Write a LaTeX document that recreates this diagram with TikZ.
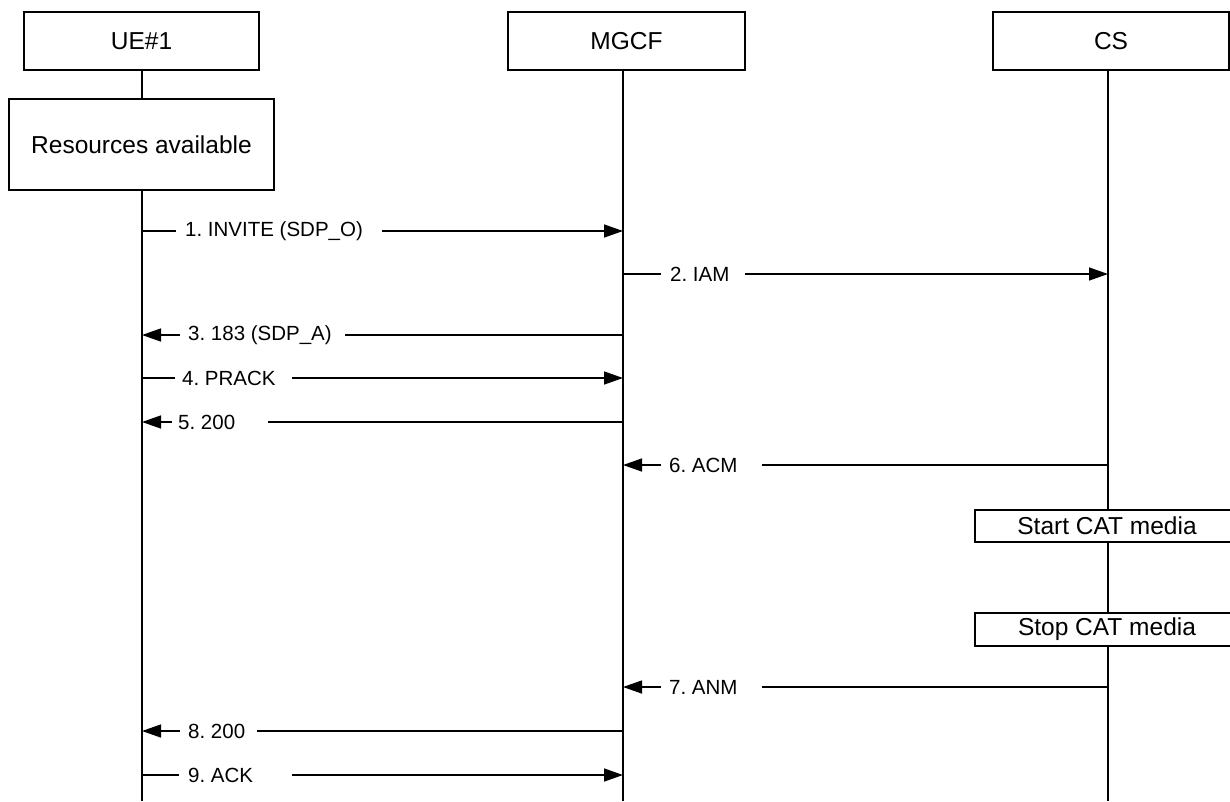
\documentclass[tikz,border=0pt]{standalone}
\usepackage{fontspec}
\setmainfont{Liberation Sans}
\usetikzlibrary{arrows.meta}
\frenchspacing
\begin{document}
\begin{tikzpicture}[x=1pt,y=-1pt,
  boxst/.style={draw,line width=1.5pt,fill=white,inner sep=0pt,font=\fontsize{24.5}{28}\selectfont},
  life/.style={line width=1.4pt},
  msg/.style={line width=1.4pt,-{Triangle[length=19pt,width=13pt]}},
  lbl/.style={fill=white,inner sep=0pt,inner xsep=0pt,anchor=west,font=\fontsize{20.5}{24}\selectfont}]
\useasboundingbox (0,0) rectangle (1230,801);
% headers
\node[boxst,minimum width=235pt,minimum height=58pt] (ue) at (141.5,41) {UE\#1};
\node[boxst,minimum width=237pt,minimum height=58pt] (mgcf) at (626.5,41) {MGCF};
\node[boxst,minimum width=236pt,minimum height=58pt] (cs) at (1111,41) {CS};
% lifeline ends
\coordinate (ueT) at (142,70);  \coordinate (ueB) at (142,801);
\coordinate (mgT) at (623,70);  \coordinate (mgB) at (623,801);
\coordinate (csT) at (1108,70); \coordinate (csB) at (1108,801);
\draw[life] (ueT) -- (ueB);
\draw[life] (mgT) -- (mgB);
\draw[life] (csT) -- (csB);
% boxes on lifelines
\node[boxst,minimum width=265pt,minimum height=91pt] (res) at (141.5,144.5) {Resources available};
\node[boxst,minimum width=264pt,minimum height=32pt] (start) at (1107,526) {Start CAT media};
\node[boxst,minimum width=264pt,minimum height=33pt] (stop) at (1107,629.5) {Stop CAT media};
% message points
\coordinate (u1) at (142,231); \coordinate (g1) at (623,231);
\coordinate (g2) at (623,274); \coordinate (c2) at (1108,274);
\coordinate (u3) at (142,335); \coordinate (g3) at (623,335);
\coordinate (u4) at (142,378); \coordinate (g4) at (623,378);
\coordinate (u5) at (142,422); \coordinate (g5) at (623,422);
\coordinate (g6) at (623,465); \coordinate (c6) at (1108,465);
\coordinate (g7) at (623,687); \coordinate (c7) at (1108,687);
\coordinate (u8) at (142,731); \coordinate (g8) at (623,731);
\coordinate (u9) at (142,775); \coordinate (g9) at (623,775);
\draw[msg] (u1) -- (g1);
\draw[msg] (g2) -- (c2);
\draw[msg] (g3) -- (u3);
\draw[msg] (u4) -- (g4);
\draw[msg] (g5) -- (u5);
\draw[msg] (c6) -- (g6);
\draw[msg] (c7) -- (g7);
\draw[msg] (g8) -- (u8);
\draw[msg] (u9) -- (g9);
% labels
\node[lbl] (l1) at (176,231) {\kern9pt 1. INVITE (SDP\_O)\kern19pt\null};
\node[lbl] (l2) at (661,274) {\kern9pt 2. IAM\kern16pt\null};
\node[lbl] (l3) at (180,335) {\kern8pt 3. 183 (SDP\_A)\kern13pt\null};
\node[lbl] (l4) at (175,378) {\kern7pt 4. PRACK\kern16pt\null};
\node[lbl] (l5) at (172,422) {\kern6pt 5. 200\kern33pt\null};
\node[lbl] (l6) at (661,465) {\kern8pt 6. ACM\kern24pt\null};
\node[lbl] (l7) at (661,687) {\kern8pt 7. ANM\kern24pt\null};
\node[lbl] (l8) at (180,731) {\kern8pt 8. 200\kern12pt\null};
\node[lbl] (l9) at (179,775) {\kern9pt 9. ACK\kern39pt\null};
\end{tikzpicture}
\end{document}
